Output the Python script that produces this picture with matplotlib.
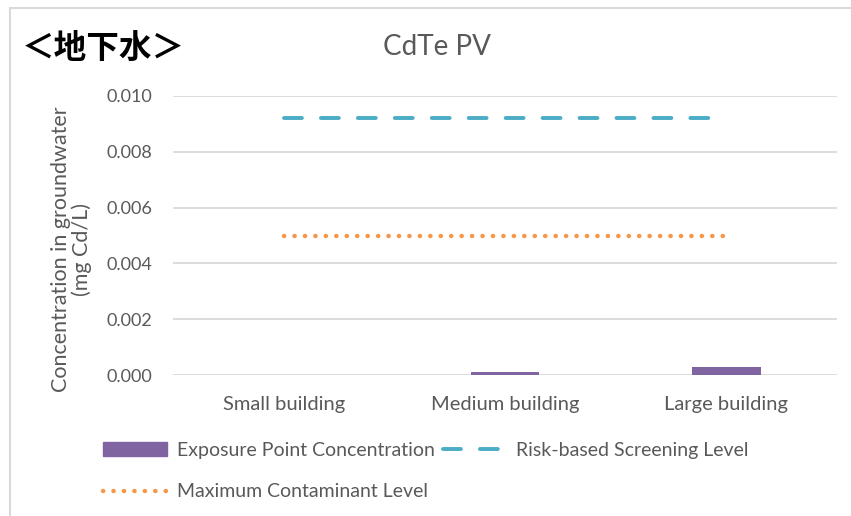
import matplotlib.pyplot as plt
from matplotlib.patches import Rectangle, Patch
from matplotlib.lines import Line2D

categories = ['Small building', 'Medium building', 'Large building']
epc = [0.0, 0.0001, 0.0003]
rsl = [0.0092, 0.0092, 0.0092]
mcl = [0.005, 0.005, 0.005]
yticks = [0.000, 0.002, 0.004, 0.006, 0.008, 0.010]

purple = '#8064A2'
teal = '#4BACC6'
orange = '#F79646'
grey = '#595959'

plt.rcParams['font.family'] = ['Lato', 'DejaVu Sans']

fig = plt.figure(figsize=(8.51, 5.16), dpi=100)
ax = fig.add_axes([173/851, 1-375/516, (837-173)/851, (375-96)/516])

lw = 2.8
dlw = 3.2
dash = (0, (4.6, 4.9))
dots = (0, (0.05, 2.3))

x = range(len(categories))
ax.bar(x, epc, width=0.31, color=purple, zorder=3)
ax.plot(x, rsl, color=teal, lw=lw, dash_capstyle='round', linestyle=dash, zorder=4)
ax.plot(x, mcl, color=orange, lw=dlw, dash_capstyle='round', linestyle=dots, zorder=4)

ax.set_xlim(-0.5, 2.5)
ax.set_ylim(0, 0.010)
ax.set_yticks(yticks)
ax.set_yticklabels(['%.3f' % v for v in yticks])
ax.set_xticks(list(x))
ax.set_xticklabels(categories)
ax.tick_params(axis='y', colors=grey, labelsize=13, length=0, pad=15)
ax.tick_params(axis='x', colors=grey, labelsize=14.5, length=0, pad=15)
ax.grid(axis='y', color='#D9D9D9', lw=1.3, zorder=0)
for s in ax.spines.values():
    s.set_visible(False)

ax.set_ylabel('Concentration in groundwater\n(mg Cd/L)', color=grey, fontsize=15.5, linespacing=1.0)
ax.yaxis.set_label_coords(-0.122, 0.45)

fig.text(437/851, 1-47/516, 'CdTe PV', ha='center', va='center', color=grey, fontsize=20)
fig.text(22/851, 1-48/516, '＜地下水＞', ha='left', va='center', color='black', fontsize=23.5,
         fontweight='bold', family=['Noto Sans CJK JP', 'DejaVu Sans'])

handles = [
    Patch(color=purple),
    Line2D([], [], color=orange, lw=dlw, dash_capstyle='round', linestyle=dots),
    Line2D([], [], color=teal, lw=lw, dash_capstyle='round', linestyle=dash),
]
labels = ['Exposure Point Concentration', 'Maximum Contaminant Level', 'Risk-based Screening Level']
leg = fig.legend(handles, labels, ncol=2, loc='upper left', bbox_to_anchor=(103/851, 1-442/516),
                 frameon=False, fontsize=14, handlelength=3.3, handletextpad=0.5,
                 columnspacing=0.4, labelspacing=1.25, borderpad=0, borderaxespad=0)
for t in leg.get_texts():
    t.set_color(grey)

fig.patches.append(Rectangle((10/851, -0.1), 1.2, (516-8)/516+0.1, transform=fig.transFigure,
                             fill=False, edgecolor='#D9D9D9', lw=1.5))

fig.savefig('out.png', dpi=100)
